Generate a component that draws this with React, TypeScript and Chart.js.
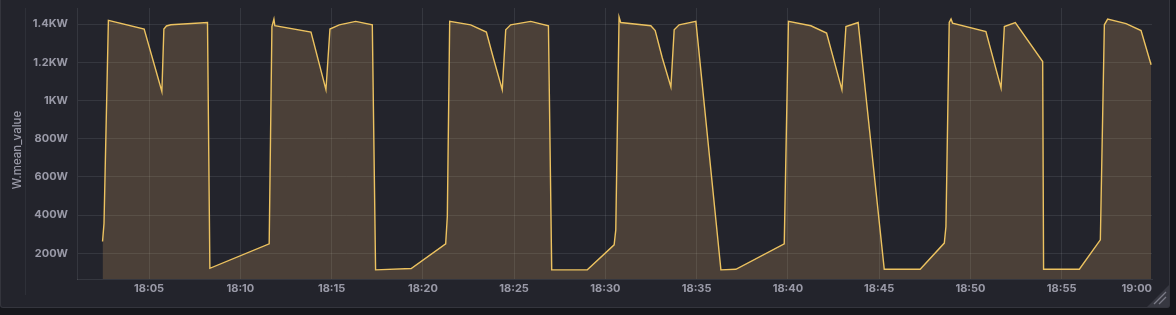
import React, { useEffect, useRef } from "react";
import { Chart, registerables } from "chart.js";

Chart.register(...registerables);

// minutes after 18:00
const times: number[] = [
  2.45, 2.53, 2.77, 4.73, 5.7, 5.81, 5.95, 6.19, 8.2, 8.33,
  11.58, 11.73, 11.84, 11.89, 13.87, 14.69, 14.91, 15.42, 16.32, 17.23, 17.41,
  19.36, 21.25, 21.34, 21.47, 22.62, 23.48, 23.84, 24.35, 24.54, 24.81, 25.91, 26.88, 27.06,
  29.01, 30.48, 30.57, 30.75, 30.84, 32.49, 32.73, 33.12, 33.59, 33.77, 34.04, 34.96, 36.33,
  37.15, 39.8, 40.03, 41.26, 42.12, 42.96, 43.18, 43.85, 45.28,
  47.25, 48.57, 48.66, 48.84, 48.94, 49.02, 50.85, 51.68, 51.86, 52.46, 53.96, 54.01,
  55.97, 57.12, 57.34, 57.52, 58.53, 59.35, 59.9,
];
// W.mean_value in watts
const watts: number[] = [
  261, 357, 1419, 1374, 1047, 1374, 1390, 1396, 1408, 121,
  249, 1387, 1426, 1391, 1358, 1056, 1374, 1396, 1414, 1396, 113,
  120, 249, 392, 1414, 1396, 1358, 1230, 1056, 1370, 1396, 1414, 1391, 113,
  113, 244, 322, 1437, 1408, 1391, 1366, 1222, 1070, 1370, 1396, 1414, 113,
  116, 249, 1414, 1391, 1353, 1056, 1387, 1408, 116,
  116, 253, 340, 1408, 1426, 1405, 1361, 1065, 1387, 1408, 1204, 116,
  116, 270, 1396, 1426, 1402, 1366, 1187,
];

const xTickValues: number[] = [5, 10, 15, 20, 25, 30, 35, 40, 45, 50, 55, 60];
const xTickLabels: string[] = [
  "18:05", "18:10", "18:15", "18:20", "18:25", "18:30",
  "18:35", "18:40", "18:45", "18:50", "18:55", "19:00",
];
const yTickValues: number[] = [200, 400, 600, 800, 1000, 1200, 1400];
const yTickLabels: string[] = ["200W", "400W", "600W", "800W", "1KW", "1.2KW", "1.4KW"];
const yTitle = "W.mean_value";

const TEXT = "rgba(204,204,220,0.7)";
const GRID = "rgba(240,250,255,0.09)";
const FONT = "Inter, 'Noto Sans', sans-serif";

export default function App() {
  const ref = useRef<HTMLCanvasElement | null>(null);

  useEffect(() => {
    if (!ref.current) return;
    const xMin = 1.05;
    const xMax = 59.95;

    const overlay = {
      id: "overlay",
      afterDraw(chart: any) {
        const ctx = chart.ctx as CanvasRenderingContext2D;
        const xs = chart.scales.x;
        const area = chart.chartArea;
        ctx.save();
        // faint axis separator line
        ctx.strokeStyle = "rgba(240,250,255,0.06)";
        ctx.lineWidth = 1;
        ctx.beginPath();
        ctx.moveTo(25.5, area.top);
        ctx.lineTo(25.5, 295);
        ctx.stroke();
        // x tick labels
        ctx.fillStyle = TEXT;
        ctx.font = `bold 11px ${FONT}`;
        ctx.textBaseline = "middle";
        xTickValues.forEach((v, i) => {
          const label = xTickLabels[i];
          const w = ctx.measureText(label).width;
          let cx = xs.getPixelForValue(v);
          if (cx + w / 2 > area.right) cx = area.right - w / 2;
          if (cx - w / 2 < area.left) return;
          ctx.textAlign = "center";
          ctx.fillText(label, cx, 289);
        });
        // y title
        ctx.font = `500 11.5px ${FONT}`;
        ctx.translate(17.5, 150);
        ctx.rotate(-Math.PI / 2);
        ctx.textAlign = "center";
        ctx.fillText(yTitle, 0, 0);
        ctx.restore();
      },
    };

    const chart = new Chart(ref.current, {
      type: "line",
      data: {
        datasets: [
          {
            label: yTitle,
            data: times.map((t, i) => ({ x: t, y: watts[i] })),
            borderColor: "rgb(236,194,96)",
            backgroundColor: "rgba(234,180,103,0.2)",
            borderWidth: 1.4,
            fill: "start",
            pointRadius: 0,
            tension: 0,
          },
        ],
      },
      options: {
        animation: false,
        responsive: false,
        maintainAspectRatio: false,
        layout: { padding: { left: 0, right: 18, top: 8, bottom: 0 } },
        plugins: { legend: { display: false }, tooltip: { enabled: false } },
        scales: {
          x: {
            type: "linear",
            min: xMin,
            max: xMax,
            afterBuildTicks: (scale: any) => {
              scale.ticks = xTickValues
                .filter((v) => v >= xMin && v <= xMax)
                .map((v) => ({ value: v }));
            },
            afterFit: (scale: any) => {
              scale.height = 29;
              scale.paddingLeft = 0;
              scale.paddingRight = 0;
            },
            ticks: { display: false },
            grid: { color: GRID, drawTicks: false, lineWidth: 1 },
            border: { display: true, color: GRID },
          },
          y: {
            type: "linear",
            min: 65,
            max: 1484,
            afterBuildTicks: (scale: any) => {
              scale.ticks = yTickValues.map((v) => ({ value: v }));
            },
            afterFit: (scale: any) => {
              scale.width = 77;
              scale.paddingTop = 0;
              scale.paddingBottom = 0;
            },
            ticks: {
              color: TEXT,
              padding: 9,
              font: { family: FONT, size: 11, weight: "bold" },
              callback: (v: any) => {
                const idx = yTickValues.indexOf(Number(v));
                return idx >= 0 ? yTickLabels[idx] : "";
              },
            },
            grid: { color: GRID, drawTicks: false, lineWidth: 1 },
            border: { display: true, color: GRID },
          },
        },
      },
      plugins: [overlay],
    });
    return () => chart.destroy();
  }, []);

  return (
    <div
      style={{
        position: "fixed",
        left: 0,
        top: 0,
        width: 1176,
        height: 315,
        background: "#16171c",
        overflow: "hidden",
      }}
    >
      <div
        style={{
          position: "absolute",
          left: 0,
          top: -12,
          width: 1170,
          height: 320,
          boxSizing: "border-box",
          background: "#23242c",
          border: "1px solid rgba(204,204,220,0.1)",
          borderRadius: 3,
          overflow: "hidden",
        }}
      >
        <canvas
          ref={ref}
          width={1170}
          height={308}
          style={{ position: "absolute", left: -1, top: 11, width: 1170, height: 308 }}
        />
        <svg
          width={24}
          height={24}
          style={{ position: "absolute", right: 0, bottom: 0 }}
        >
          <polygon points="2,24 24,24 24,2" fill="rgba(204,204,220,0.12)" />
          <line x1="9" y1="21" x2="21" y2="9" stroke="rgba(204,204,220,0.45)" strokeWidth="1.2" />
          <line x1="14" y1="21" x2="21" y2="14" stroke="rgba(204,204,220,0.45)" strokeWidth="1.2" />
        </svg>
      </div>
    </div>
  );
}
